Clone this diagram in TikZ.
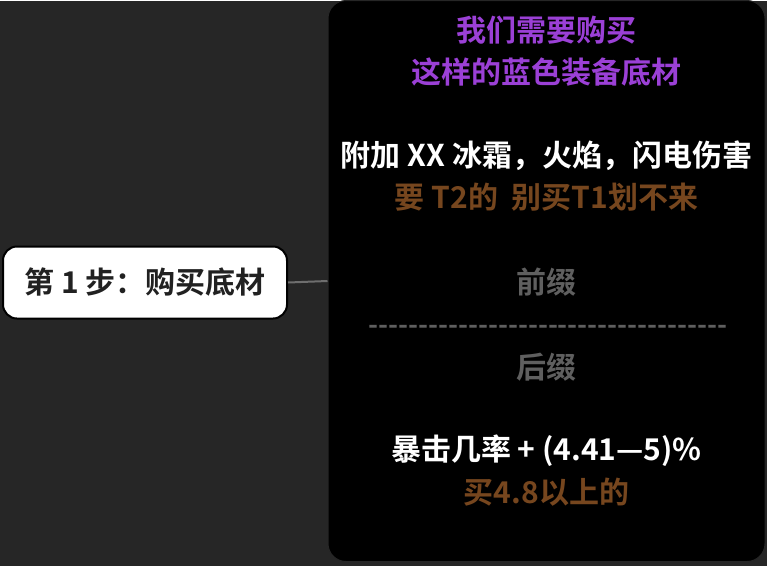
\documentclass[tikz,border=0pt]{standalone}
\usepackage{fontspec}
\setmainfont{Noto Sans CJK SC}[BoldFont={Noto Sans CJK SC Bold}]
\usetikzlibrary{positioning}

\definecolor{bgdark}{RGB}{38,38,38}
\definecolor{tippurple}{RGB}{155,64,214}
\definecolor{tipbrown}{RGB}{118,70,30}
\definecolor{tipgray}{RGB}{95,95,95}
\definecolor{linkgray}{RGB}{110,110,110}

\begin{document}
\begin{tikzpicture}[x=1pt,y=-1pt,
    every node/.style={font=\bfseries\fontsize{30}{36}\selectfont},
    topic/.style={draw=black,line width=2pt,fill=white,rounded corners=14pt,
        minimum width=284pt,minimum height=72pt,text=black!87},
    notebox/.style={fill=black,draw=white!15!black,line width=1pt,rounded corners=18pt,
        minimum width=437pt,minimum height=561pt}]
    \fill[bgdark] (0,0) rectangle (767,565);
    \node[notebox] (note) at (546.5,280.5) {};
    \node[topic] (step) at (145,282) {第 1 步：购买底材};
    \draw[linkgray,line width=2pt] (step.east) -- (note.west);

    \foreach \y/\c/\t [count=\i] in {30/tippurple/{我们需要购买},72/tippurple/{这样的蓝色装备底材},
        155/white/{附加 XX 冰霜，火焰，闪电伤害},197/tipbrown/{要 T2的\ \ 别买T1划不来},
        282/tipgray/{前缀},367/tipgray/{后缀},
        450/white/{暴击几率 + (4.41—5)\%},492/tipbrown/{买4.8以上的}}
        \node[text=\c] (line\i) at (546.5,\y) {\t};

    \node[text=tipgray,font=\bfseries\fontsize{27}{32}\selectfont] (rule) at (548,329)
        {\foreach \k in {1,...,36}{-}};
\end{tikzpicture}
\end{document}
